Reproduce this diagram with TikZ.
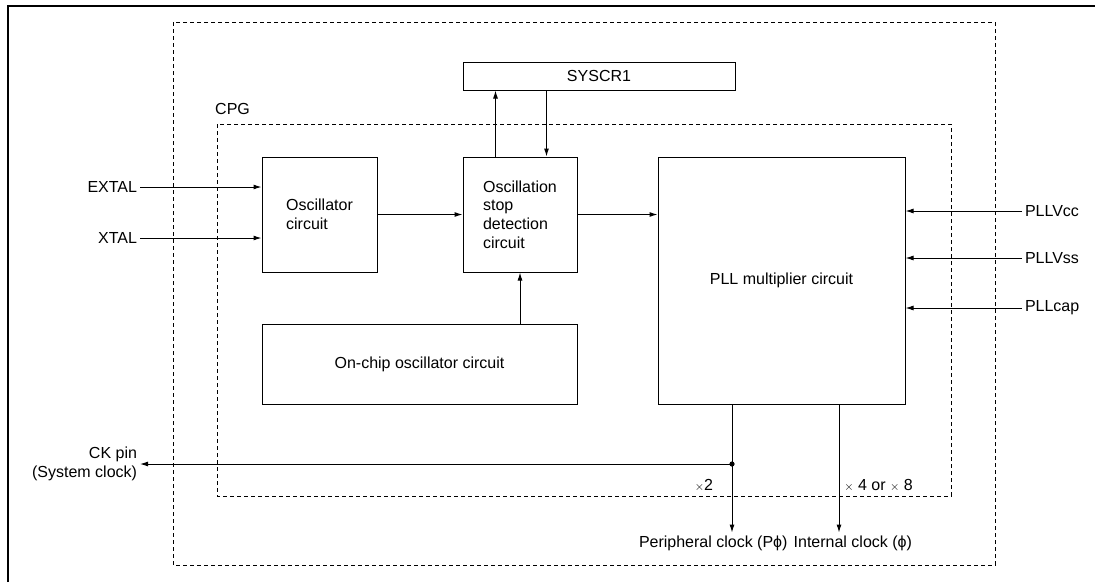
\documentclass[tikz,border=0pt]{standalone}
\usepackage{fontspec}
\setmainfont{Liberation Sans}
\usetikzlibrary{arrows.meta}
\newcommand\tms{{\fontsize{12}{12}\selectfont$\times$}}
\tikzset{
  box/.style={draw, line width=1pt, inner sep=0pt, align=left},
  lbl/.style={inner sep=0pt, outer sep=3pt},
  arr/.style={line width=1pt, -{Latex[length=8pt,width=5pt]}},
  wire/.style={line width=1pt},
  dbox/.style={line width=0.9pt, dash pattern=on 4pt off 3pt},
}
\begin{document}
\begin{tikzpicture}[x=1pt, y=-1pt, every node/.style={font=\fontsize{16}{18.7}\selectfont}]
\useasboundingbox (0,0) rectangle (1095,582);
% frame
\draw[line width=2.5pt] (8,582) -- (8,6) -- (1095,6);
% dashed boxes
\draw[dbox] (173,22) rectangle (995,565);
\draw[dbox] (217,124) rectangle (951,496);
\node[anchor=west, inner sep=0pt] (cpg) at (215,109) {CPG};
% blocks
\node[box, minimum width=272pt, minimum height=28pt] (sys) at (599,76) {SYSCR1};
\node[box, minimum width=115pt, minimum height=115pt] (osc) at (319.5,214.5) {Oscillator\\circuit};
\node[box, minimum width=114pt, minimum height=115pt] (stop) at (520,214.5) {Oscillation\\stop\\detection\\circuit};
\node[box, minimum width=247pt, minimum height=247pt] (pll) at (781.5,280.5) {PLL multiplier circuit};
\node[box, minimum width=315pt, minimum height=80pt] (onchip) at (419.5,364) {On-chip oscillator circuit};
% labels
\node[lbl, anchor=east] (extal) at (140,187) {EXTAL};
\node[lbl, anchor=east] (xtal) at (140,238) {XTAL};
\node[lbl, anchor=east, align=right] (ck) at (140,464) {CK pin\\(System clock)};
\node[lbl, anchor=west] (vcc) at (1022,211) {PLLVcc};
\node[lbl, anchor=west] (vss) at (1022,258) {PLLVss};
\node[lbl, anchor=west] (cap) at (1022,308) {PLLcap};
\node[lbl, anchor=west] (per) at (636,543) {Peripheral clock (Pϕ)};
\node[lbl, anchor=east] (int) at (915,543) {Internal clock (ϕ)};
\node[inner sep=0pt] (x2) at (704,485) {\tms2};
\node[inner sep=0pt] (x48) at (878.5,485) {\tms\ 4 or \tms\ 8};
\coordinate (j) at (732,464);
\coordinate (k) at (839,464);
% connectors
\draw[arr] (extal.east) -- (extal.east -| osc.west);
\draw[arr] (xtal.east) -- (xtal.east -| osc.west);
\draw[arr] (osc.east) -- (stop.west);
\draw[arr] (stop.east) -- (stop.east -| pll.west);
\draw[arr] ([xshift=33pt]stop.north west) -- ([xshift=33pt]stop.north west |- sys.south);
\draw[arr] ([xshift=84pt]stop.north west |- sys.south) -- ([xshift=84pt]stop.north west);
\draw[arr] (stop.south |- onchip.north) -- (stop.south);
\draw[arr] (vcc.west) -- (vcc.west -| pll.east);
\draw[arr] (vss.west) -- (vss.west -| pll.east);
\draw[arr] (cap.west) -- (cap.west -| pll.east);
\draw[arr] (j |- pll.south) -- (j |- per.north);
\draw[arr] (k |- pll.south) -- (k |- int.north);
\draw[arr] (j) -- (ck.east |- j);
\fill (j) circle (2.6pt);
\end{tikzpicture}
\end{document}
